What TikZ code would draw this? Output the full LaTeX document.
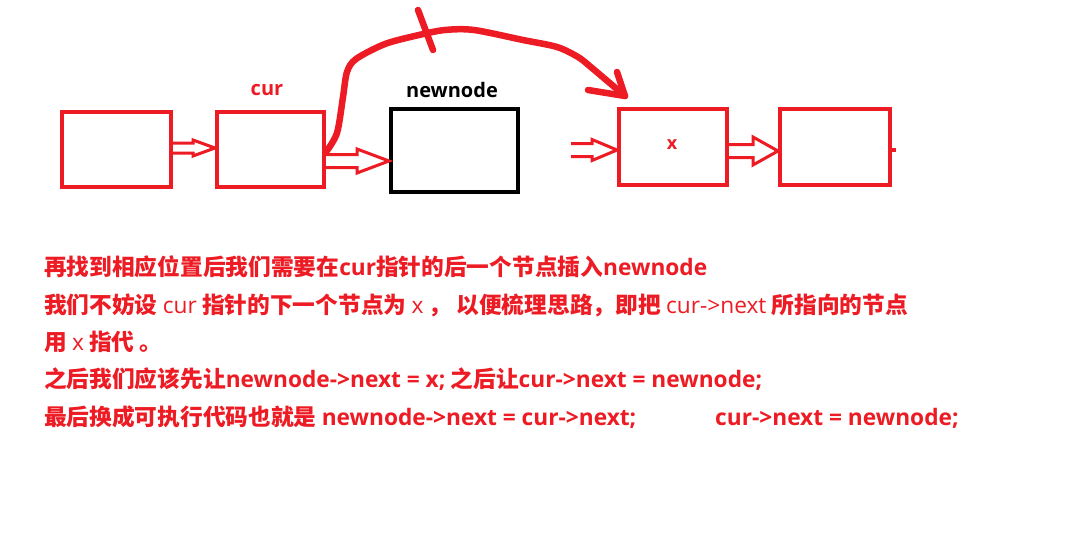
\documentclass[tikz,border=0pt]{standalone}
\usepackage{fontspec}
\setmainfont{Noto Sans CJK SC}
\newfontfamily\latf{Open Sans}
\newcommand\lb[1]{{\latf\bfseries #1}}
\newcommand\lr[1]{{\latf\mdseries #1}}
\usetikzlibrary{calc}
\definecolor{pred}{HTML}{ED1C24}
\newcommand\harrow[5]{%
  \draw[hollowarr] let \p1=(#1), \p2=(#2) in
    (\x1,\y1+#3) -- (\x2-#5,\y1+#3) -- (\x2-#5,\y1+#4) -- (\x2,\y1)
    -- (\x2-#5,\y1-#4) -- (\x2-#5,\y1-#3) -- (\x1,\y1-#3);}
\begin{document}
\begin{tikzpicture}[x=1pt,y=-1pt,
  rbox/.style={draw=pred,line width=4pt,inner sep=0pt},
  bbox/.style={draw=black,line width=4pt,inner sep=0pt},
  hollowarr/.style={draw=pred,line width=3pt,fill=white,line join=miter},
  pen/.style={draw=pred,line width=6.5pt,line cap=round,line join=round},
  txt/.style={anchor=base west,inner sep=0pt,text=pred,font=\fontsize{22.7pt}{25pt}\selectfont\bfseries},
  lab/.style={inner sep=0pt,font=\fontsize{20pt}{22pt}\selectfont\latf\bfseries}]
\useasboundingbox[fill=white] (0,0) rectangle (1077,546);
% boxes
\node[rbox,minimum width=109pt,minimum height=75pt] (b1) at (116.5,149.5) {};
\node[rbox,minimum width=107pt,minimum height=75pt] (b2) at (270.5,149.5) {};
\node[bbox,minimum width=127pt,minimum height=83pt] (nn) at (454.5,150.5) {};
\node[rbox,minimum width=108pt,minimum height=76pt] (bx) at (673,147) {};
\node[rbox,minimum width=110pt,minimum height=76pt] (b5) at (835,147) {};
% labels
\node[lab,text=pred] (lcur) at (267,90) {cur};
\node[lab,text=black] (lnn) at (452,90) {newnode};
\node[lab,text=pred,font=\fontsize{18pt}{20pt}\selectfont\latf\bfseries] (lx) at (672,145) {x};
% arrow coordinates
\coordinate (a1s) at (b1.east |- 0,148);
\coordinate (a1e) at (b2.west |- 0,148);
\coordinate (a2s) at (b2.east |- 0,161);
\coordinate (a2e) at (nn.west |- 0,161);
\coordinate (a3s) at (571,150);
\coordinate (a3e) at (bx.west |- 0,150);
\coordinate (a4s) at (bx.east |- 0,151);
\coordinate (a4e) at (b5.west |- 0,151);
\harrow{a1s}{a1e}{5pt}{8pt}{22pt}
\harrow{a2s}{a2e}{6.5pt}{12pt}{32pt}
\harrow{a3s}{a3e}{6.5pt}{10.5pt}{25pt}
\harrow{a4s}{a4e}{6.5pt}{14pt}{25pt}
\draw[draw=pred,line width=4pt] (b5.east |- 0,150) -- ++(4,0);
% curved pen stroke
\coordinate (cs) at (b2.east |- 0,152);
\coordinate (ce) at (625,96);
\draw[pen] plot[smooth,tension=0.5] coordinates {(cs) (337,133) (343,97) (347,72) (356,59) (385,44) (419,35) (445,30) (474,30) (523,40) (557,47) (578,57) (592,68) (ce)};
\draw[pen] (588,90) -- (ce);
\draw[pen] (617,72) -- (ce);
\draw[pen] (418,10) -- (433,50);
% text
\node[txt] (t1) at (44,275) {再找到相应位置后我们需要在\lb{cur}指针的后一个节点插入\lb{newnode}};
\node[txt] (t2) at (44,313) {我们不妨设 \lr{cur} 指针的下一个节点为 \lr{x} ， 以便梳理思路，即把 \lr{cur->next} 所指向的节点};
\node[txt] (t3) at (44,350) {用 \lr{x} 指代 。};
\node[txt] (t4) at (44,387) {之后我们应该先让\lb{newnode->next = x;} 之后让\lb{cur->next = newnode;}};
\node[txt] (t5) at (44,425) {最后换成可执行代码也就是 \lb{newnode->next = cur->next;}};
\node[txt] (t6) at (715,425) {\lb{cur->next = newnode;}};
\end{tikzpicture}
\end{document}
